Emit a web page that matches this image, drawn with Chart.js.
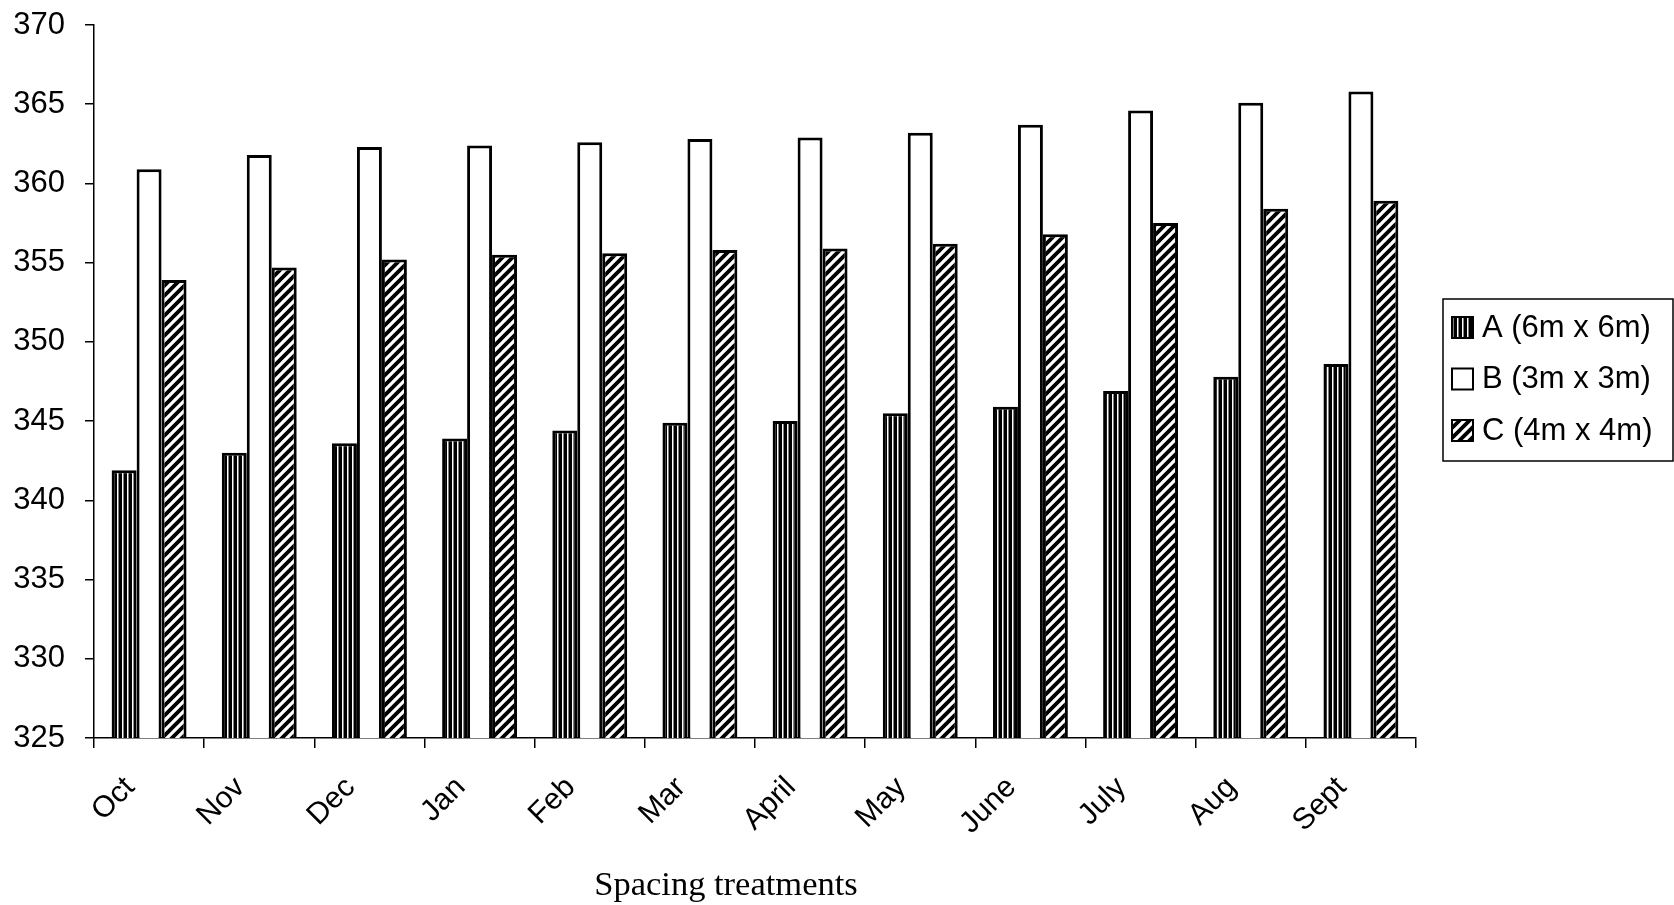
<!DOCTYPE html>
<html>
<head>
<meta charset="utf-8">
<script src="https://cdn.jsdelivr.net/npm/chart.js@4.4.1/dist/chart.umd.min.js"></script>
<style>
  html, body { margin:0; padding:0; background:#fff; }
  #wrap { width:1674px; height:905px; }
</style>
</head>
<body>
<div id="wrap"><canvas id="spacingChart" width="1674" height="905"></canvas></div>
<script>
/* spacing treatments - monthly bars, three spacings */

const MONTHS   = ['Oct','Nov','Dec','Jan','Feb','Mar','April','May','June','July','Aug','Sept'];
const SERIES_A = [341.9, 343.0, 343.6, 343.9, 344.4, 344.9, 345.0, 345.5, 345.9, 346.9, 347.8, 348.6];
const SERIES_B = [360.9, 361.8, 362.3, 362.4, 362.6, 362.8, 362.9, 363.2, 363.7, 364.6, 365.1, 365.8];
const SERIES_C = [353.9, 354.7, 355.2, 355.5, 355.6, 355.8, 355.9, 356.2, 356.8, 357.5, 358.4, 358.9];
const LABELS   = ['A (6m x 6m)', 'B (3m x 3m)', 'C (4m x 4m)'];
const Y_TICKS  = [325, 330, 335, 340, 345, 350, 355, 360, 365, 370];

const SANS  = '"Liberation Sans", Arial, sans-serif';
const SERIF = '"Liberation Serif", "Times New Roman", serif';

function stripePattern() {
  const c = document.createElement('canvas'); c.width = 5; c.height = 5;
  const g = c.getContext('2d');
  g.fillStyle = '#000'; g.fillRect(0, 0, 5, 5);
  g.fillStyle = '#fff'; g.fillRect(2, 0, 1.5, 5);
  return g.createPattern(c, 'repeat');
}

function hatchPattern() {
  const s = 10;
  const c = document.createElement('canvas'); c.width = s; c.height = s;
  const g = c.getContext('2d');
  g.fillStyle = '#fff'; g.fillRect(0, 0, s, s);
  g.strokeStyle = '#000'; g.lineWidth = 3.8;
  g.beginPath();
  g.moveTo(-s/2, s/2);  g.lineTo(s/2, -s/2);
  g.moveTo(0, s);       g.lineTo(s, 0);
  g.moveTo(s/2, s*1.5); g.lineTo(s*1.5, s/2);
  g.stroke();
  return g.createPattern(c, 'repeat');
}

const FILLS = [stripePattern(), '#fff', hatchPattern()];

// boxed legend at the right, drawn by hand so it sits where the original does
const boxLegend = {
  id: 'boxLegend',
  afterDraw(chart) {
    const ctx = chart.ctx;
    const bx = 1443, by = 299, bw = 230, bh = 162;
    ctx.save();
    ctx.strokeStyle = '#000'; ctx.lineWidth = 1.5;
    ctx.strokeRect(bx, by, bw, bh);
    ctx.font = '31px ' + SANS;
    ctx.textBaseline = 'middle';
    chart.data.datasets.forEach((ds, i) => {
      const cy = 327 + i * 51.5;
      ctx.fillStyle = ds.backgroundColor;
      ctx.fillRect(1452, cy - 10, 21, 21);
      ctx.lineWidth = 2; ctx.strokeStyle = '#000';
      ctx.strokeRect(1452, cy - 10, 21, 21);
      ctx.fillStyle = '#000';
      ctx.fillText(ds.label, 1482, cy + 1);
    });
    ctx.restore();
  }
};

const axisCaption = {
  id: 'axisCaption',
  afterDraw(chart) {
    const ctx = chart.ctx;
    ctx.save();
    ctx.font = '34.5px ' + SERIF;
    ctx.fillStyle = '#000';
    ctx.textAlign = 'center';
    ctx.textBaseline = 'middle';
    ctx.fillText('Spacing treatments', 726, 886);
    ctx.restore();
  }
};

const datasets = [SERIES_A, SERIES_B, SERIES_C].map((vals, i) => ({
  label: LABELS[i],
  data: vals,
  backgroundColor: FILLS[i],
  borderColor: '#000',
  borderWidth: 3,
  borderSkipped: false,
  categoryPercentage: 0.68,
  barPercentage: 1.0,
}));

new Chart(document.getElementById('spacingChart'), {
  type: 'bar',
  data: { labels: MONTHS, datasets },
  plugins: [boxLegend, axisCaption],
  options: {
    responsive: false,
    animation: false,
    layout: { padding: { left: 0, top: 25, right: 258, bottom: 0 } },
    plugins: { legend: { display: false }, tooltip: { enabled: false } },
    scales: {
      x: {
        grid: { display: true, drawOnChartArea: false, drawTicks: true, tickLength: 10, color: '#000', lineWidth: 1.5, offset: true },
        border: { display: true, color: '#000', width: 1.5 },
        ticks: { color: '#000', font: { family: SANS, size: 30 }, maxRotation: 45, minRotation: 45, labelOffset: -19, padding: 22, autoSkip: false },
        afterFit(scale) { scale.height = 167; },
      },
      y: {
        min: 325, max: 370,
        afterBuildTicks(scale) { scale.ticks = Y_TICKS.map(v => ({ value: v })); },
        grid: { display: true, drawOnChartArea: false, drawTicks: true, tickLength: 9, color: '#000', lineWidth: 1.5 },
        border: { display: true, color: '#000', width: 1.5 },
        ticks: { color: '#000', font: { family: SANS, size: 31 }, padding: 20 },
        afterFit(scale) {
          scale.width = 94;
          // the label gap should not push the plot down
          scale.paddingTop = 0;
          scale.paddingBottom = 0;
        },
      },
    },
  },
});
</script>
</body>
</html>
